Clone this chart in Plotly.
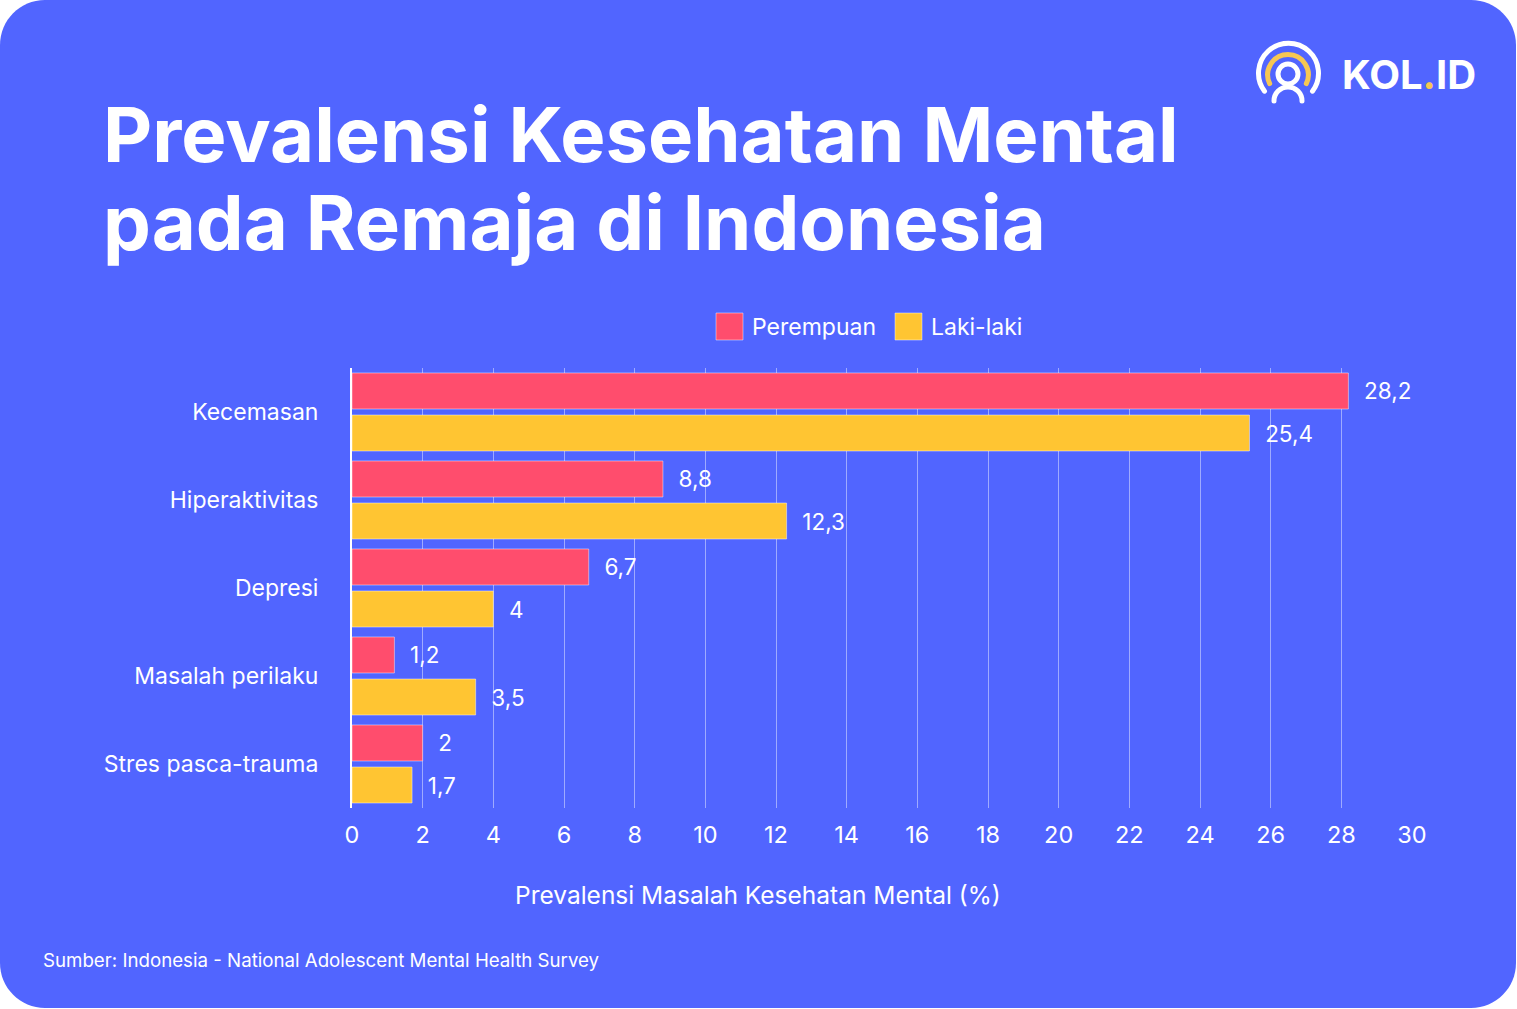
import base64
import plotly.graph_objects as go

# ---- data ----
categories = ["Kecemasan", "Hiperaktivitas", "Depresi", "Masalah perilaku", "Stres pasca-trauma"]
perempuan = [28.2, 8.8, 6.7, 1.2, 2.0]
laki_laki = [25.4, 12.3, 4.0, 3.5, 1.7]
series_names = ["Perempuan", "Laki-laki"]
x_ticks = list(range(0, 31, 2))

title_line1 = "Prevalensi Kesehatan Mental"
title_line2 = "pada Remaja di Indonesia"
x_title = "Prevalensi Masalah Kesehatan Mental (%)"
source_text = "Sumber: Indonesia - National Adolescent Mental Health Survey"

# ---- style ----
W, H = 1517, 1009
L, R, T, B = 352, 105, 368, 201
BLUE = "#5165FF"
RED = "#FF4D6D"
YEL = "#FFC532"
LOGO_YEL = "#F7C752"
FONT = "Inter"


def X(px):
    return (px - L) / (W - L - R)


def Y(py):
    return (H - B - py) / (H - T - B)


def fmt(v):
    return ("%g" % v).replace(".", ",")


fig = go.Figure()
for name, vals, col in [(series_names[0], perempuan, RED), (series_names[1], laki_laki, YEL)]:
    fig.add_trace(go.Bar(
        name=name, y=categories, x=vals, orientation="h",
        marker=dict(color=col, line=dict(color="rgba(255,255,255,0.45)", width=1)),
        text=[fmt(v) for v in vals],
        texttemplate="\u00a0\u00a0%{text}",
        textposition="outside",
        textfont=dict(family=FONT, size=22.5, color="white"),
        cliponaxis=False,
        showlegend=False,
    ))

# rounded background
rw, rh, rr = 1516, 1008, 45
k = 0.5523 * rr


def p(x, y):
    return "%.6f,%.6f" % (X(x), Y(y))


path = (
    "M " + p(rr, 0) + " L " + p(rw - rr, 0)
    + " C " + p(rw - rr + k, 0) + " " + p(rw, rr - k) + " " + p(rw, rr)
    + " L " + p(rw, rh - rr)
    + " C " + p(rw, rh - rr + k) + " " + p(rw - rr + k, rh) + " " + p(rw - rr, rh)
    + " L " + p(rr, rh)
    + " C " + p(rr - k, rh) + " " + p(0, rh - rr + k) + " " + p(0, rh - rr)
    + " L " + p(0, rr)
    + " C " + p(0, rr - k) + " " + p(rr - k, 0) + " " + p(rr, 0) + " Z"
)
shapes = [dict(type="path", xref="paper", yref="paper", path=path,
               fillcolor=BLUE, line=dict(width=0), layer="below")]

# manual legend
legend_items = [(716, RED, series_names[0]), (895, YEL, series_names[1])]
annotations = []
for x0, col, name in legend_items:
    shapes.append(dict(type="rect", xref="paper", yref="paper",
                       x0=X(x0), x1=X(x0 + 27), y0=Y(313), y1=Y(340),
                       fillcolor=col, line=dict(color="rgba(255,255,255,0.45)", width=1)))
    annotations.append(dict(xref="paper", yref="paper", x=X(x0 + 34), y=Y(327),
                            xanchor="left", yanchor="middle", showarrow=False, text=name,
                            font=dict(family=FONT, size=23, color="white")))

# titles
annotations.append(dict(xref="paper", yref="paper", x=X(101), y=Y(134), xanchor="left",
                        yanchor="middle", showarrow=False, text="<b>%s</b>" % title_line1,
                        font=dict(family=FONT, size=76, color="white")))
annotations.append(dict(xref="paper", yref="paper", x=X(101), y=Y(222), xanchor="left",
                        yanchor="middle", showarrow=False, text="<b>%s</b>" % title_line2,
                        font=dict(family=FONT, size=76, color="white")))
annotations.append(dict(xref="paper", yref="paper", x=X(41), y=Y(960), xanchor="left",
                        yanchor="middle", showarrow=False, text=source_text,
                        font=dict(family=FONT, size=18.7, color="white")))
annotations.append(dict(xref="paper", yref="paper", x=X(758), y=Y(895), xanchor="center",
                        yanchor="middle", showarrow=False, text=x_title,
                        font=dict(family=FONT, size=24.5, color="white")))
annotations.append(dict(xref="paper", yref="paper", x=X(1340), y=Y(74), xanchor="left",
                        yanchor="middle", showarrow=False,
                        text="<b>KOL<span style='color:%s'>.</span>ID</b>" % LOGO_YEL,
                        font=dict(family=FONT, size=40, color="white")))

# logo icon (decorative, svg)
svg = f'''<svg xmlns="http://www.w3.org/2000/svg" width="76" height="66" viewBox="0 0 76 66">
<g fill="none" stroke-linecap="round" stroke-width="5">
<path d="M 14.5 53.2 A 30 30 0 1 1 62.5 53.2" stroke="white"/>
<path d="M 19.7 45.6 A 20.3 20.3 0 1 1 56.3 45.6" stroke="{LOGO_YEL}"/>
<circle cx="38" cy="36" r="10" stroke="white"/>
<path d="M 24 63 A 14 14 0 0 1 52 63" stroke="white"/>
</g></svg>'''
src = "data:image/svg+xml;base64," + base64.b64encode(svg.encode()).decode()
images = [dict(source=src, xref="paper", yref="paper", x=X(1250), y=Y(38),
               sizex=76 / (W - L - R), sizey=66 / (H - T - B),
               xanchor="left", yanchor="top", sizing="stretch", layer="above")]

fig.update_layout(
    width=W, height=H,
    margin=dict(l=L, r=R, t=T, b=B, pad=0),
    paper_bgcolor="white", plot_bgcolor="rgba(0,0,0,0)",
    barmode="group", bargap=0.045, bargroupgap=0.143,
    font=dict(family=FONT, color="white"),
    shapes=shapes, annotations=annotations, images=images,
    xaxis=dict(range=[0, 30], tickvals=x_ticks, ticktext=[str(t) for t in x_ticks],
               showgrid=True, gridcolor="rgba(255,255,255,0.45)", gridwidth=1,
               zeroline=False, showline=False, ticks="outside", ticklen=6,
               tickcolor="rgba(0,0,0,0)", tickfont=dict(family=FONT, size=23.5, color="white"),
               fixedrange=True),
    yaxis=dict(categoryorder="array", categoryarray=categories, autorange="reversed",
               showgrid=False, zeroline=False, showline=True, linecolor="white", linewidth=2,
               ticks="outside", ticklen=27, tickcolor="rgba(0,0,0,0)",
               tickfont=dict(family=FONT, size=23, color="white"), fixedrange=True),
)

fig.write_html("out.html", config={"displayModeBar": False},
               post_script="document.body.style.margin='0';document.body.style.overflow='hidden';")
